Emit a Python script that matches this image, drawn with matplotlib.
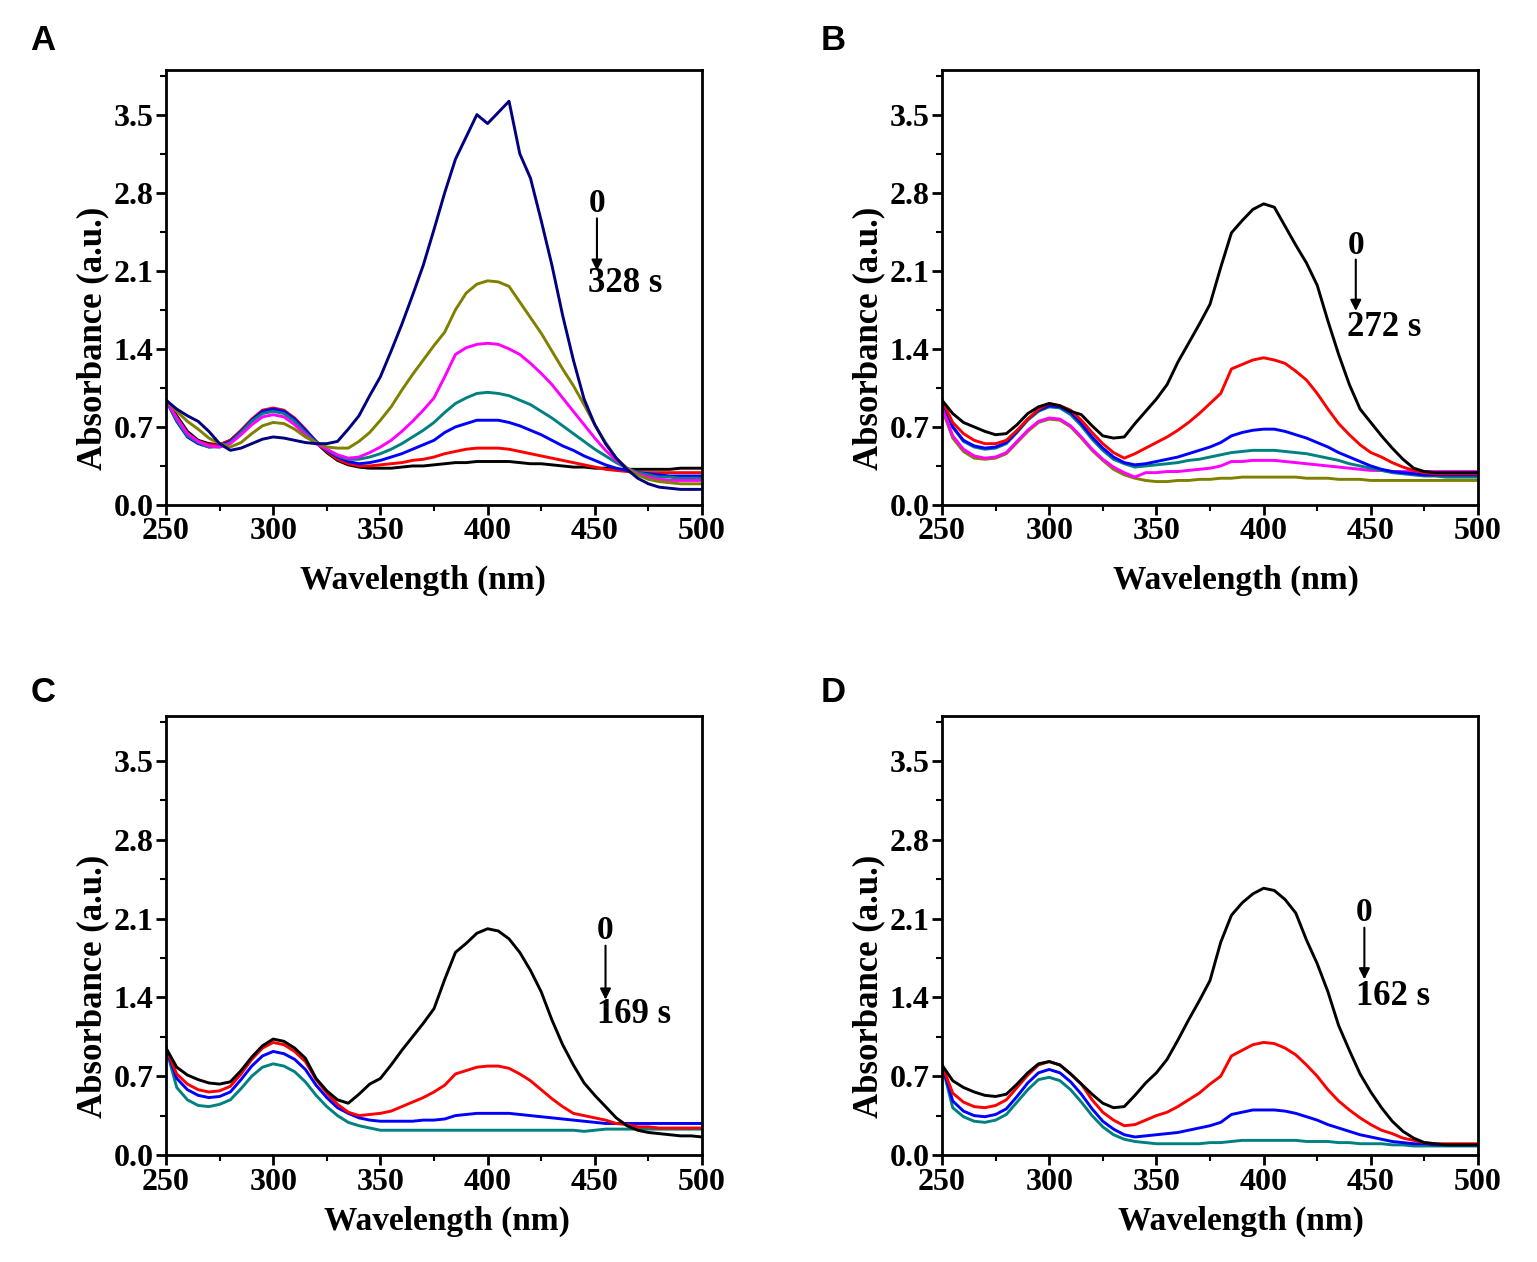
import numpy as np
import matplotlib
matplotlib.use("Agg")
import matplotlib.pyplot as plt
from matplotlib.ticker import MultipleLocator, FormatStrFormatter

plt.rcParams['font.family'] = ['Liberation Serif', 'DejaVu Serif']
plt.rcParams['font.weight'] = 'bold'

# wavelength grid (nm), 250..500 every 5 nm
wavelength = [250, 255, 260, 265, 270, 275, 280, 285, 290, 295,
              300, 305, 310, 315, 320, 325, 330, 335, 340, 345,
              350, 355, 360, 365, 370, 375, 380, 385, 390, 395,
              400, 405, 410, 415, 420, 425, 430, 435, 440, 445,
              450, 455, 460, 465, 470, 475, 480, 485, 490, 495, 500]

# ---------------- Panel A (0 -> 328 s) ----------------
A_black = [0.94, 0.80, 0.66, 0.58, 0.55, 0.54, 0.58, 0.66, 0.76, 0.83,
           0.86, 0.84, 0.77, 0.67, 0.56, 0.47, 0.40, 0.36, 0.34, 0.33,
           0.33, 0.33, 0.34, 0.35, 0.35, 0.36, 0.37, 0.38, 0.38, 0.39,
           0.39, 0.39, 0.39, 0.38, 0.37, 0.37, 0.36, 0.35, 0.34, 0.34,
           0.33, 0.33, 0.32, 0.32, 0.32, 0.32, 0.32, 0.32, 0.33, 0.33, 0.33]
A_red = [0.94, 0.78, 0.64, 0.57, 0.54, 0.54, 0.58, 0.67, 0.77, 0.85,
         0.87, 0.85, 0.78, 0.68, 0.57, 0.48, 0.41, 0.37, 0.35, 0.35,
         0.36, 0.37, 0.38, 0.40, 0.41, 0.43, 0.46, 0.48, 0.50, 0.51,
         0.51, 0.51, 0.50, 0.48, 0.46, 0.44, 0.42, 0.40, 0.38, 0.36,
         0.34, 0.32, 0.31, 0.30, 0.29, 0.29, 0.29, 0.29, 0.29, 0.29, 0.29]
A_blue = [0.94, 0.75, 0.61, 0.55, 0.52, 0.53, 0.57, 0.66, 0.76, 0.84,
          0.86, 0.84, 0.77, 0.67, 0.57, 0.49, 0.43, 0.39, 0.37, 0.38,
          0.40, 0.43, 0.46, 0.50, 0.54, 0.58, 0.65, 0.70, 0.73, 0.76,
          0.76, 0.76, 0.74, 0.71, 0.67, 0.63, 0.58, 0.53, 0.49, 0.44,
          0.40, 0.36, 0.33, 0.31, 0.29, 0.28, 0.27, 0.26, 0.26, 0.26, 0.26]
A_teal = [0.94, 0.76, 0.62, 0.56, 0.52, 0.52, 0.56, 0.65, 0.75, 0.82,
          0.84, 0.82, 0.75, 0.65, 0.56, 0.50, 0.44, 0.41, 0.41, 0.43,
          0.46, 0.50, 0.55, 0.61, 0.67, 0.74, 0.83, 0.91, 0.96, 1.00,
          1.01, 1.00, 0.98, 0.94, 0.90, 0.84, 0.78, 0.71, 0.64, 0.57,
          0.50, 0.44, 0.38, 0.33, 0.29, 0.27, 0.25, 0.25, 0.24, 0.24, 0.24]
A_magenta = [0.94, 0.78, 0.64, 0.57, 0.53, 0.52, 0.55, 0.63, 0.72, 0.79,
             0.81, 0.79, 0.72, 0.63, 0.55, 0.50, 0.45, 0.42, 0.43, 0.47,
             0.52, 0.58, 0.66, 0.75, 0.85, 0.96, 1.15, 1.35, 1.41, 1.44,
             1.45, 1.44, 1.40, 1.35, 1.27, 1.18, 1.08, 0.96, 0.84, 0.72,
             0.60, 0.49, 0.40, 0.33, 0.28, 0.25, 0.23, 0.22, 0.22, 0.22, 0.22]
A_olive = [0.94, 0.84, 0.75, 0.68, 0.60, 0.55, 0.52, 0.56, 0.64, 0.71,
           0.74, 0.73, 0.68, 0.61, 0.56, 0.52, 0.51, 0.51, 0.57, 0.65,
           0.76, 0.88, 1.03, 1.17, 1.30, 1.43, 1.55, 1.75, 1.90, 1.98,
           2.01, 2.00, 1.96, 1.82, 1.68, 1.54, 1.38, 1.22, 1.07, 0.90,
           0.72, 0.56, 0.42, 0.33, 0.27, 0.23, 0.21, 0.20, 0.19, 0.19, 0.19]
A_navy = [0.94, 0.86, 0.80, 0.75, 0.66, 0.55, 0.49, 0.51, 0.55, 0.59,
          0.61, 0.60, 0.58, 0.56, 0.55, 0.55, 0.57, 0.68, 0.80, 0.98,
          1.15, 1.38, 1.62, 1.88, 2.15, 2.47, 2.80, 3.10, 3.30, 3.50,
          3.42, 3.52, 3.62, 3.15, 2.93, 2.55, 2.15, 1.70, 1.30, 0.95,
          0.72, 0.55, 0.42, 0.32, 0.24, 0.19, 0.16, 0.15, 0.14, 0.14, 0.14]

# ---------------- Panel B (0 -> 272 s) ----------------
B_black = [0.94, 0.82, 0.74, 0.70, 0.66, 0.63, 0.64, 0.72, 0.82, 0.88,
           0.91, 0.89, 0.84, 0.81, 0.71, 0.62, 0.60, 0.61, 0.73, 0.84,
           0.95, 1.08, 1.28, 1.45, 1.62, 1.80, 2.13, 2.44, 2.55, 2.65,
           2.70, 2.67, 2.50, 2.33, 2.17, 1.97, 1.65, 1.35, 1.08, 0.86,
           0.74, 0.62, 0.51, 0.41, 0.33, 0.30, 0.29, 0.29, 0.29, 0.29, 0.29]
B_red = [0.94, 0.74, 0.64, 0.58, 0.55, 0.55, 0.58, 0.67, 0.77, 0.86,
         0.91, 0.89, 0.85, 0.76, 0.65, 0.55, 0.47, 0.42, 0.46, 0.51,
         0.56, 0.61, 0.67, 0.74, 0.82, 0.91, 1.00, 1.22, 1.26, 1.30,
         1.32, 1.30, 1.27, 1.20, 1.12, 1.00, 0.86, 0.73, 0.63, 0.54,
         0.47, 0.43, 0.38, 0.34, 0.31, 0.29, 0.28, 0.28, 0.28, 0.28, 0.28]
B_blue = [0.94, 0.70, 0.58, 0.53, 0.51, 0.52, 0.56, 0.66, 0.77, 0.85,
          0.89, 0.88, 0.83, 0.73, 0.61, 0.51, 0.43, 0.38, 0.36, 0.37,
          0.39, 0.41, 0.43, 0.46, 0.49, 0.52, 0.56, 0.62, 0.65, 0.67,
          0.68, 0.68, 0.66, 0.63, 0.60, 0.56, 0.52, 0.47, 0.43, 0.39,
          0.35, 0.32, 0.30, 0.29, 0.28, 0.27, 0.27, 0.27, 0.27, 0.27, 0.27]
B_teal = [0.94, 0.70, 0.57, 0.52, 0.50, 0.51, 0.55, 0.65, 0.76, 0.84,
          0.88, 0.87, 0.81, 0.71, 0.59, 0.49, 0.41, 0.37, 0.34, 0.35,
          0.36, 0.37, 0.38, 0.40, 0.41, 0.43, 0.45, 0.47, 0.48, 0.49,
          0.49, 0.49, 0.48, 0.47, 0.46, 0.44, 0.42, 0.40, 0.37, 0.35,
          0.33, 0.31, 0.29, 0.28, 0.27, 0.26, 0.26, 0.25, 0.25, 0.25, 0.25]
B_magenta = [0.88, 0.62, 0.50, 0.44, 0.42, 0.43, 0.47, 0.57, 0.67, 0.75,
             0.78, 0.77, 0.71, 0.61, 0.50, 0.41, 0.34, 0.29, 0.25, 0.29,
             0.29, 0.30, 0.30, 0.31, 0.32, 0.33, 0.35, 0.39, 0.39, 0.40,
             0.40, 0.40, 0.39, 0.38, 0.37, 0.36, 0.35, 0.34, 0.33, 0.32,
             0.31, 0.31, 0.30, 0.30, 0.30, 0.30, 0.30, 0.30, 0.30, 0.30, 0.30]
B_olive = [0.86, 0.60, 0.48, 0.42, 0.41, 0.42, 0.46, 0.56, 0.66, 0.74,
           0.77, 0.76, 0.70, 0.60, 0.49, 0.40, 0.32, 0.27, 0.24, 0.22,
           0.21, 0.21, 0.22, 0.22, 0.23, 0.23, 0.24, 0.24, 0.25, 0.25,
           0.25, 0.25, 0.25, 0.25, 0.24, 0.24, 0.24, 0.23, 0.23, 0.23,
           0.22, 0.22, 0.22, 0.22, 0.22, 0.22, 0.22, 0.22, 0.22, 0.22, 0.22]

# ---------------- Panel C (0 -> 169 s) ----------------
C_black = [0.95, 0.78, 0.71, 0.67, 0.64, 0.63, 0.65, 0.75, 0.87, 0.97,
           1.03, 1.01, 0.95, 0.86, 0.68, 0.57, 0.49, 0.46, 0.54, 0.63,
           0.68, 0.80, 0.93, 1.05, 1.17, 1.30, 1.56, 1.80, 1.88, 1.97,
           2.01, 1.99, 1.92, 1.80, 1.64, 1.45, 1.20, 0.98, 0.80, 0.64,
           0.53, 0.43, 0.33, 0.26, 0.22, 0.20, 0.19, 0.18, 0.17, 0.17, 0.16]
C_red = [0.95, 0.72, 0.63, 0.58, 0.56, 0.57, 0.61, 0.72, 0.85, 0.95,
         1.00, 0.98, 0.92, 0.83, 0.67, 0.55, 0.45, 0.38, 0.35, 0.36,
         0.37, 0.39, 0.43, 0.47, 0.51, 0.56, 0.62, 0.72, 0.75, 0.78,
         0.79, 0.79, 0.77, 0.72, 0.66, 0.58, 0.50, 0.43, 0.37, 0.35,
         0.33, 0.31, 0.28, 0.27, 0.25, 0.25, 0.24, 0.24, 0.24, 0.24, 0.24]
C_blue = [0.95, 0.68, 0.58, 0.53, 0.51, 0.52, 0.56, 0.67, 0.79, 0.88,
          0.92, 0.90, 0.85, 0.76, 0.62, 0.51, 0.42, 0.37, 0.33, 0.31,
          0.30, 0.30, 0.30, 0.30, 0.31, 0.31, 0.32, 0.35, 0.36, 0.37,
          0.37, 0.37, 0.37, 0.36, 0.35, 0.34, 0.33, 0.32, 0.31, 0.30,
          0.29, 0.28, 0.28, 0.28, 0.28, 0.28, 0.28, 0.28, 0.28, 0.28, 0.28]
C_teal = [0.95, 0.60, 0.49, 0.44, 0.43, 0.45, 0.49, 0.59, 0.70, 0.78,
          0.81, 0.79, 0.74, 0.65, 0.53, 0.43, 0.35, 0.29, 0.26, 0.24,
          0.22, 0.22, 0.22, 0.22, 0.22, 0.22, 0.22, 0.22, 0.22, 0.22,
          0.22, 0.22, 0.22, 0.22, 0.22, 0.22, 0.22, 0.22, 0.22, 0.21,
          0.22, 0.23, 0.23, 0.23, 0.23, 0.23, 0.23, 0.23, 0.23, 0.23, 0.23]

# ---------------- Panel D (0 -> 162 s) ----------------
D_black = [0.80, 0.66, 0.60, 0.56, 0.53, 0.52, 0.54, 0.63, 0.73, 0.81,
           0.83, 0.80, 0.72, 0.63, 0.54, 0.46, 0.42, 0.43, 0.53, 0.64,
           0.73, 0.85, 1.02, 1.20, 1.37, 1.55, 1.89, 2.13, 2.24, 2.32,
           2.37, 2.35, 2.27, 2.15, 1.91, 1.70, 1.45, 1.15, 0.93, 0.72,
           0.56, 0.42, 0.30, 0.21, 0.15, 0.11, 0.10, 0.09, 0.09, 0.09, 0.09]
D_red = [0.80, 0.55, 0.47, 0.43, 0.42, 0.44, 0.49, 0.60, 0.71, 0.80,
         0.83, 0.80, 0.72, 0.63, 0.49, 0.38, 0.31, 0.26, 0.27, 0.31,
         0.35, 0.38, 0.43, 0.49, 0.55, 0.63, 0.70, 0.88, 0.93, 0.98,
         1.00, 0.99, 0.95, 0.89, 0.80, 0.70, 0.58, 0.48, 0.40, 0.33,
         0.27, 0.22, 0.19, 0.15, 0.13, 0.11, 0.10, 0.10, 0.10, 0.10, 0.10]
D_blue = [0.80, 0.48, 0.39, 0.35, 0.34, 0.36, 0.41, 0.52, 0.64, 0.73,
          0.76, 0.73, 0.65, 0.54, 0.41, 0.30, 0.23, 0.18, 0.16, 0.17,
          0.18, 0.19, 0.20, 0.22, 0.24, 0.26, 0.29, 0.36, 0.38, 0.40,
          0.40, 0.40, 0.39, 0.37, 0.34, 0.31, 0.27, 0.24, 0.21, 0.18,
          0.16, 0.14, 0.12, 0.11, 0.10, 0.10, 0.09, 0.09, 0.09, 0.09, 0.09]
D_teal = [0.80, 0.42, 0.34, 0.30, 0.29, 0.31, 0.36, 0.47, 0.58, 0.67,
          0.69, 0.66, 0.58, 0.47, 0.35, 0.25, 0.18, 0.14, 0.12, 0.11,
          0.10, 0.10, 0.10, 0.10, 0.10, 0.11, 0.11, 0.12, 0.13, 0.13,
          0.13, 0.13, 0.13, 0.13, 0.12, 0.12, 0.12, 0.11, 0.11, 0.10,
          0.10, 0.10, 0.09, 0.09, 0.08, 0.08, 0.08, 0.08, 0.08, 0.08, 0.08]

panel_labels = ["A", "B", "C", "D"]
end_times = ["328 s", "272 s", "169 s", "162 s"]
x_ticks = [250, 300, 350, 400, 450, 500]
y_ticks = [0.0, 0.7, 1.4, 2.1, 2.8, 3.5]

NAVY, OLIVE, MAGENTA, TEAL = "#000080", "#808000", "#ff00ff", "#008080"
BLUE, RED, BLACK = "#0000ff", "#ff0000", "#000000"

panels = [
    [(A_black, BLACK), (A_red, RED), (A_blue, BLUE), (A_teal, TEAL),
     (A_magenta, MAGENTA), (A_olive, OLIVE), (A_navy, NAVY)],
    [(B_olive, OLIVE), (B_magenta, MAGENTA), (B_teal, TEAL), (B_blue, BLUE),
     (B_red, RED), (B_black, BLACK)],
    [(C_teal, TEAL), (C_blue, BLUE), (C_red, RED), (C_black, BLACK)],
    [(D_teal, TEAL), (D_blue, BLUE), (D_red, RED), (D_black, BLACK)],
]

# annotation anchors (data coords): x, y of "0", arrow end y, label y
annot = [(451, 2.70, 2.10, 1.99),
         (443, 2.33, 1.74, 1.59),
         (455, 1.99, 1.38, 1.25),
         (447, 2.15, 1.56, 1.41)]

W, H = 1537, 1262
fig = plt.figure(figsize=(W / 100, H / 100), dpi=100)

axes_px = [(166, 70, 702, 505), (942, 70, 1478, 505),
           (166, 716, 702, 1155), (942, 716, 1478, 1155)]
label_px = [(43, 41), (833, 41), (43, 692), (833, 692)]
xlabel_x = [0.479, 0.549, 0.524, 0.558]
ylabel_y = [0.382, 0.382, 0.385, 0.385]
xlabel_pad = [13, 13, 7, 7]

for i, (l, t, r, b) in enumerate(axes_px):
    ax = fig.add_axes([l / W, 1 - b / H, (r - l) / W, (b - t) / H])
    for vals, col in panels[i]:
        ax.plot(wavelength, vals, color=col, lw=2.1, solid_joinstyle='round')
    ax.set_xlim(250, 500)
    ax.set_ylim(0, 3.9)
    ax.set_xticks(x_ticks)
    ax.set_yticks(y_ticks)
    ax.xaxis.set_minor_locator(MultipleLocator(25))
    ax.yaxis.set_minor_locator(MultipleLocator(0.35))
    ax.yaxis.set_major_formatter(FormatStrFormatter('%.1f'))
    ax.tick_params(which='major', direction='out', length=7, width=2,
                   labelsize=23, pad=2)
    ax.tick_params(which='minor', direction='out', length=4, width=1.5)
    ax.tick_params(top=False, right=False, which='both')
    for s in ax.spines.values():
        s.set_linewidth(2)
    for lab in ax.get_xticklabels() + ax.get_yticklabels():
        lab.set_fontweight('bold')
    ax.set_xlabel("Wavelength (nm)", fontsize=24, fontweight='bold',
                  labelpad=xlabel_pad[i])
    ax.set_ylabel("Absorbance (a.u.)", fontsize=25, fontweight='bold', labelpad=3)
    ax.xaxis.label.set_x(xlabel_x[i])
    ax.yaxis.label.set_y(ylabel_y[i])

    x0, y0, yend, ylab = annot[i]
    ax.text(x0, y0, "0", fontsize=24, fontweight='bold', ha='center', va='center')
    ax.annotate("", xy=(x0, yend), xytext=(x0, y0 - 0.13),
                arrowprops=dict(arrowstyle='-|>', color='black', lw=1.5,
                                mutation_scale=16, shrinkA=0, shrinkB=0))
    ax.text(x0 - 4, ylab, end_times[i], fontsize=25, fontweight='bold',
            ha='left', va='center')

    lx, ly = label_px[i]
    fig.text(lx / W, 1 - ly / H, panel_labels[i], fontsize=25, fontweight='bold',
             family=['Liberation Sans', 'DejaVu Sans'], ha='center', va='center')

fig.savefig("out.png", dpi=100)
